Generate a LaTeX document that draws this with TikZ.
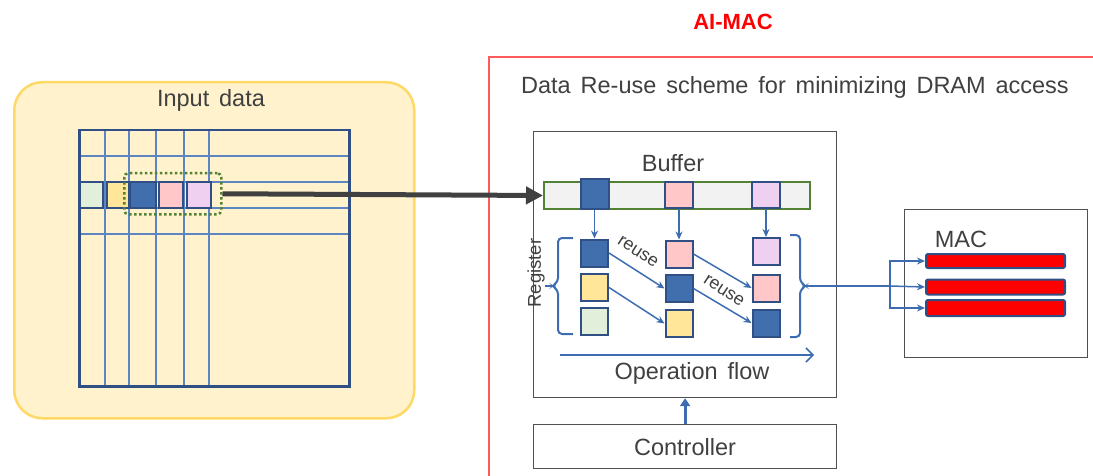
\documentclass[tikz,border=0pt]{standalone}
\usepackage{fontspec}
\setmainfont{Liberation Sans}
\usetikzlibrary{arrows.meta}
\definecolor{txtgray}{HTML}{404040}
\definecolor{boxgray}{HTML}{505050}
\definecolor{gold}{HTML}{FFD966}
\definecolor{lightyellow}{HTML}{FFF2CC}
\definecolor{gridblue}{HTML}{5B86C2}
\definecolor{darkblue}{HTML}{2F4F85}
\definecolor{cellblue}{HTML}{416FAE}
\definecolor{cellpink}{HTML}{FFC7C7}
\definecolor{celllav}{HTML}{EFD0F0}
\definecolor{cellyellow}{HTML}{FFE699}
\definecolor{cellgreen}{HTML}{E2EFDA}
\definecolor{olive}{HTML}{548235}
\definecolor{flowblue}{HTML}{3D6DB0}
\definecolor{framered}{HTML}{FF5B5B}
\definecolor{buffill}{HTML}{F2F2F2}
\newcommand\bigtxt{\fontsize{23.5}{28}\selectfont\spaceskip=0.42em\relax}
\begin{document}
\begin{tikzpicture}[x=1pt,y=-1pt,
  txt/.style={text=txtgray,font=\bigtxt,inner sep=0pt},
  plainbox/.style={draw=boxgray,line width=1.2pt,anchor=north west,inner sep=0pt},
  gridline/.style={draw=gridblue,line width=1.3pt},
  cell/.style={draw=darkblue,line width=2pt,inner sep=0pt,minimum width=27pt,minimum height=27pt},
  blline/.style={draw=flowblue,line width=1.5pt},
  blarrow/.style={blline,-{Stealth[length=8pt,width=7pt]}},
  macbar/.style={draw=darkblue,fill=red,line width=2pt,rounded corners=2pt,anchor=north west,minimum width=139pt,inner sep=0pt},
]
\useasboundingbox (0,0) rectangle (1093,476);
% input area
\node[draw=gold,fill=lightyellow,line width=2.5pt,rounded corners=28pt,minimum width=400pt,minimum height=336pt,anchor=north west,inner sep=0pt] (input) at (13,81) {};
\node[txt] (inputlbl) at (211,100) {Input data};
% grid
\foreach \gx in {105,129,156,184,209} \draw[gridline] (\gx,129) -- (\gx,385);
\foreach \gy in {156,182,208,234} \draw[gridline] (78,\gy) -- (348,\gy);
\node[draw=darkblue,line width=2.5pt,minimum width=270pt,minimum height=256pt,anchor=north west,inner sep=0pt] (grid) at (78,129) {};
\node[cell,fill=cellgreen,minimum width=23pt,minimum height=26pt] (g1) at (91.5,195) {};
\node[cell,fill=cellyellow,minimum width=22pt,minimum height=26pt] (g2) at (117.5,195) {};
\node[cell,fill=cellblue,minimum width=26pt,minimum height=26pt] (g3) at (143,195) {};
\node[cell,fill=cellpink,minimum width=24pt,minimum height=26pt] (g4) at (171,195) {};
\node[cell,fill=celllav,minimum width=24pt,minimum height=26pt] (g5) at (198.5,195) {};
\node[draw=olive,line width=2.5pt,dash pattern=on 2.5pt off 2.5pt,rounded corners=4pt,minimum width=97pt,minimum height=41pt,anchor=north west,inner sep=0pt] (sel) at (123,172) {};
% AI-MAC frame
\draw[draw=framered,line width=2.5pt] (489,477) -- (489,57) -- (1094,57);
\node[text=red,font=\fontsize{22}{26}\selectfont\bfseries,inner sep=0pt] (title) at (733,22) {AI-MAC};
\node[txt] (scheme) at (795,87) {Data Re-use scheme for minimizing DRAM access};
% main box
\node[plainbox,minimum width=303pt,minimum height=266pt] (main) at (533,131) {};
\node[txt] (buflbl) at (673,163) {Buffer};
\node[draw=olive,fill=buffill,line width=2pt,minimum width=266pt,minimum height=27pt,anchor=north west,inner sep=0pt] (buf) at (543,181) {};
\draw[draw=txtgray,line width=5pt,-{Triangle[length=17pt,width=17pt]}] (sel.east) -- (buf.west);
\node[cell,fill=cellblue,minimum height=30pt,minimum width=28pt] (bb1) at (594.5,194) {};
\node[cell,fill=cellpink,minimum height=26pt,minimum width=28pt] (bb2) at (679,195) {};
\node[cell,fill=celllav,minimum height=26pt,minimum width=28pt] (bb3) at (766,195) {};
% registers
\node[cell,fill=cellblue] (r11) at (594.5,253) {};
\node[cell,fill=cellyellow] (r12) at (594.5,287.5) {};
\node[cell,fill=cellgreen] (r13) at (594.5,321.5) {};
\node[cell,fill=cellpink] (r21) at (679,254) {};
\node[cell,fill=cellblue] (r22) at (679,288.5) {};
\node[cell,fill=cellyellow] (r23) at (679,323.5) {};
\node[cell,fill=celllav] (r31) at (766,251.5) {};
\node[cell,fill=cellpink] (r32) at (766,288) {};
\node[cell,fill=cellblue] (r33) at (766,323) {};
\draw[blarrow] (bb1.south) -- (r11.north);
\draw[blarrow] (bb2.south) -- (r21.north);
\draw[blarrow] (bb3.south) -- (r31.north);
\draw[blarrow] (r11.east) -- (r22.west);
\draw[blarrow] (r12.east) -- (r23.west);
\draw[blarrow] (r21.east) -- (r32.west);
\draw[blarrow] (r22.east) -- (r33.west);
\node[text=txtgray,font=\fontsize{18}{20}\selectfont,rotate=-33,inner sep=0pt] (reuse1) at (638,252) {reuse};
\node[text=txtgray,font=\fontsize{18}{20}\selectfont,rotate=-33,inner sep=0pt] (reuse2) at (724,291) {reuse};
\node[text=txtgray,font=\fontsize{18.5}{20}\selectfont,rotate=90,inner sep=0pt] (reglbl) at (536,273) {Register};
% braces
\draw[draw=flowblue,line width=2pt,rounded corners=4pt] (573,238) -- (558,238) -- (558,282) -- (552,286) -- (558,290) -- (558,334) -- (573,334);
\draw[draw=flowblue,line width=2pt] (553,286) -- (545,286);
\draw[draw=flowblue,line width=2pt,rounded corners=4pt] (790,235) -- (800,235) -- (800,282) -- (806,286) -- (800,290) -- (800,337) -- (790,337);
\coordinate (rtip) at (806,286);
% operation flow
\coordinate (of1) at (560,355);
\coordinate (of2) at (814,355);
\draw[blline,-{Straight Barb[length=7pt,width=14pt]}] (of1) -- (of2);
\node[txt] (oplbl) at (692,373) {Operation flow};
% controller
\node[plainbox,minimum width=303pt,minimum height=44pt] (ctrl) at (533,424) {};
\node[txt] (ctrllbl) at (685,447) {Controller};
\draw[draw=flowblue,line width=3pt,-{Triangle[length=8pt,width=10pt]}] (ctrl.north) -- (main.south);
% MAC
\node[plainbox,minimum width=183pt,minimum height=148pt] (mac) at (904,209) {};
\node[txt] (maclbl) at (961,239) {MAC};
\node[macbar,minimum height=14pt] (m1) at (925,253) {};
\node[macbar,minimum height=15pt] (m2) at (925,278.5) {};
\node[macbar,minimum height=16pt] (m3) at (925,299) {};
\coordinate (split) at (890,286);
\draw[blline] (rtip) -- (split);
\draw[blarrow] (split) |- (m1.west);
\draw[blarrow] (split) -- (m2.west);
\draw[blarrow] (split) |- (m3.west);
\end{tikzpicture}
\end{document}
